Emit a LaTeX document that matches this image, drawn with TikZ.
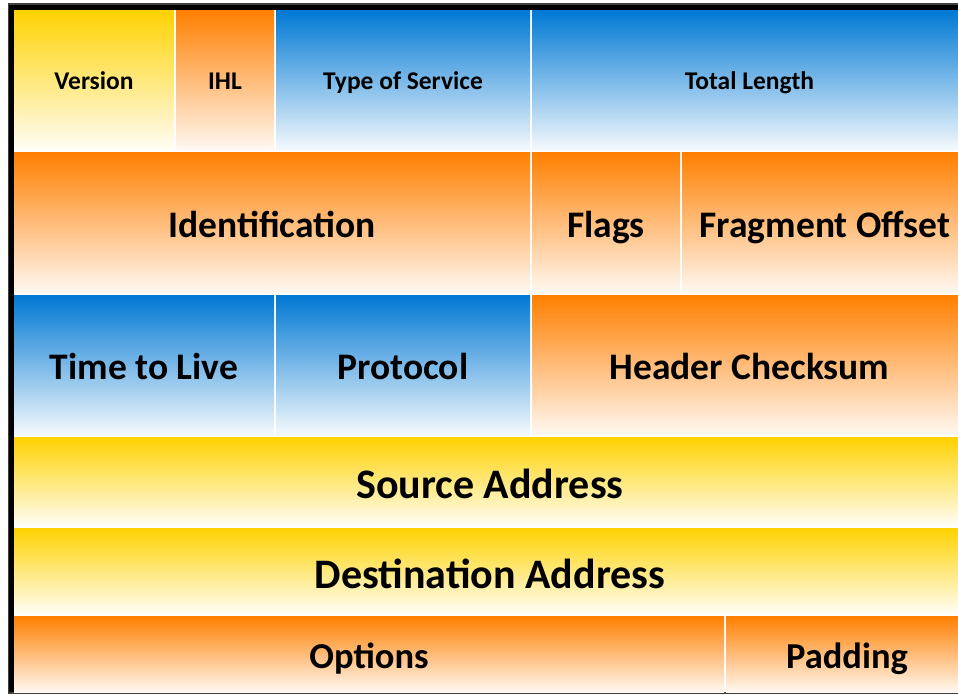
\documentclass[tikz,border=0pt]{standalone}
\usepackage{fontspec}
\setmainfont{Carlito}
\definecolor{ipyel}{RGB}{255,210,0}
\definecolor{iporg}{RGB}{255,127,0}
\definecolor{ipblu}{RGB}{0,120,212}
\tikzset{
  fld/.style={inner sep=0pt, outer sep=0pt, text=black},
  yel/.style={fld, top color=ipyel, bottom color=ipyel!3},
  org/.style={fld, top color=iporg, bottom color=iporg!5},
  blu/.style={fld, top color=ipblu, bottom color=ipblu!4},
  sz/.style 2 args={minimum width=#1pt, minimum height=#2pt},
  fa/.style={font=\bfseries\fontsize{25.5}{30}\selectfont, text height=22pt, text depth=4pt},
  fb/.style={font=\bfseries\fontsize{37.5}{44}\selectfont, text height=34pt, text depth=5pt},
  fc/.style={font=\bfseries\fontsize{42}{50}\selectfont, text height=40pt, text depth=6pt},
  fd/.style={font=\bfseries\fontsize{36.5}{44}\selectfont, text height=33pt, text depth=5pt}
}
\begin{document}
\begin{tikzpicture}[x=1pt, y=-1pt]
		\useasboundingbox (0,0) rectangle (958,694);
		\clip (0,0) rectangle (958,694);
		% frame
		\fill[black!75] (8,3) rectangle (970,694);
		\fill[black] (9,5) rectangle (970,692);
		\fill[white] (14,10) rectangle (970,692);
		% row 1
		\node[yel, sz={160}{140}, fa] (ver) at (94,80) {Version};
		\node[org, sz={98}{140}, fa] (ihl) at (225,80) {IHL};
		\node[blu, sz={254}{140}, fa] (tos) at (403,80) {Type of Service};
		\node[blu, sz={435}{140}, fa] (tlen) at (749.5,80) {Total Length};
		% row 2
		\node[org, sz={516}{141}, fb] (ident) at (272,222.5) {Identification};
		\node[org, sz={148}{141}, fb] (flags) at (606,222.5) {Flags};
		\node[org, sz={286}{141}, fb] (frag) at (825,222.5) {Fragment Offset};
		% row 3
		\node[blu, sz={260}{140}, fb] (ttl) at (144,365) {Time to Live};
		\node[blu, sz={254}{140}, fb] (proto) at (403,365) {Protocol};
		\node[org, sz={435}{140}, fb] (hcs) at (749.5,365) {Header Checksum};
		% rows 4 and 5
		\node[yel, sz={952}{89}, fc] (src) at (490,481.5) {Source Address};
		\node[yel, sz={952}{86}, fc] (dst) at (490,571) {Destination Address};
		% row 6
		\node[org, sz={710}{76}, fd] (opt) at (369,654) {Options};
		\node[org, sz={242}{76}, fd] (pad) at (847,654) {Padding};
	\end{tikzpicture}
\end{document}
